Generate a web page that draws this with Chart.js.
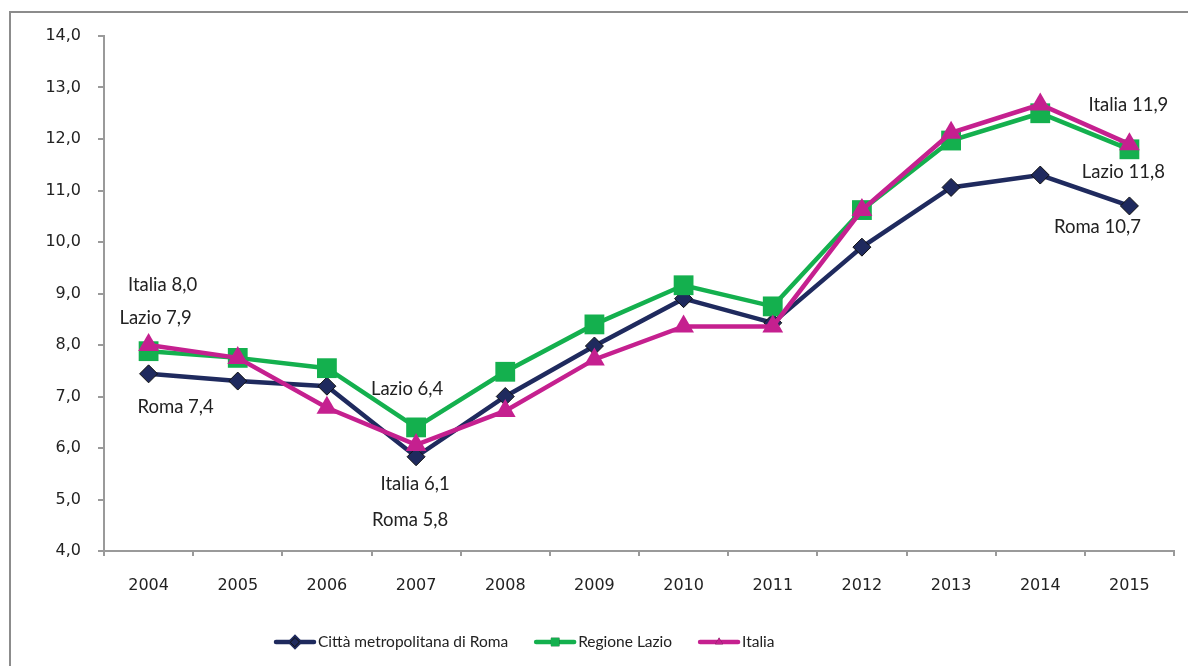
<!DOCTYPE html>
<html>
<head>
<meta charset="utf-8">
<script src="https://cdn.jsdelivr.net/npm/chart.js@4.4.1/dist/chart.umd.min.js"></script>
<style>
    body { margin: 0; background: #fff; }
    #wrap { position: relative; width: 1188px; height: 666px; overflow: hidden; }
    #frame { position: absolute; left: 9px; top: 11px; width: 1250px; height: 720px; border: 2px solid #8c8c8c; }
    #chart { position: absolute; left: 0; top: 0; }
</style>
</head>
<body>
<div id="wrap">
    <div id="frame"></div>
    <canvas id="chart" width="1188" height="666"></canvas>
</div>
<script>
// ======================================
// DATA
// ======================================
const years = ["2004", "2005", "2006", "2007", "2008", "2009", "2010", "2011", "2012", "2013", "2014", "2015"];
const roma = [7.44, 7.3, 7.2, 5.83, 7.0, 7.98, 8.9, 8.43, 9.9, 11.06, 11.3, 10.7];
const lazio = [7.88, 7.75, 7.55, 6.4, 7.48, 8.4, 9.16, 8.75, 10.62, 11.97, 12.5, 11.8];
const italia = [8.0, 7.75, 6.78, 6.06, 6.72, 7.72, 8.36, 8.36, 10.62, 12.12, 12.67, 11.9];
const seriesNames = ["Città metropolitana di Roma", "Regione Lazio", "Italia"];
const shortNames = ["Roma", "Lazio", "Italia"];
const colors = ["#1f2a5e", "#14b04e", "#c5208f"];

// data labels: dataset index, point index, offset from point
const pointLabels = [
    { ds: 2, i: 0, dx: 14, dy: -60 },
    { ds: 1, i: 0, dx: 7, dy: -33 },
    { ds: 0, i: 0, dx: 27, dy: 33 },
    { ds: 1, i: 3, dx: -9, dy: -38 },
    { ds: 2, i: 3, dx: -1, dy: 39 },
    { ds: 0, i: 3, dx: -6, dy: 63 },
    { ds: 2, i: 11, dx: -1, dy: -39 },
    { ds: 1, i: 11, dx: -6, dy: 23 },
    { ds: 0, i: 11, dx: -32, dy: 21 }
];

const fmt = (v) => v.toFixed(1).replace(".", ",");

// ======================================
// PLUGINS
// ======================================
const dataLabels = {
    id: "dataLabels",
    afterDatasetsDraw(chart) {
        const c = chart.ctx;
        c.save();
        c.font = "18.5px Lato";
        c.fillStyle = "#222";
        c.textAlign = "center";
        c.textBaseline = "middle";
        pointLabels.forEach(l => {
            const p = chart.getDatasetMeta(l.ds).data[l.i];
            const v = chart.data.datasets[l.ds].data[l.i];
            c.fillText(shortNames[l.ds] + " " + fmt(v), p.x + l.dx, p.y + l.dy);
        });
        c.restore();
    }
};

const lineLegend = {
    id: "lineLegend",
    afterDraw(chart) {
        const c = chart.ctx;
        c.save();
        c.font = "15.5px Lato";
        c.textBaseline = "middle";
        let x = 276;
        const y = 642;
        chart.data.datasets.forEach(ds => {
            c.strokeStyle = ds.borderColor;
            c.lineWidth = 4.5;
            c.lineCap = "round";
            c.beginPath();
            c.moveTo(x, y);
            c.lineTo(x + 38, y);
            c.stroke();
            Chart.helpers.drawPoint(c, {
                pointStyle: ds.pointStyle,
                radius: ds.pointStyle === "rect" ? 6 : 4.5,
                borderWidth: ds.pointBorderWidth
            }, x + 19, y);
            c.fillStyle = ds.pointBackgroundColor;
            c.strokeStyle = ds.pointBorderColor;
            c.lineWidth = 1;
            c.fill();
            if (ds.pointBorderWidth) c.stroke();
            c.fillStyle = "#222";
            c.fillText(ds.label, x + 42, y);
            x += 42 + c.measureText(ds.label).width + 28;
        });
        c.restore();
    }
};

// ======================================
// CHART
// ======================================
const ctx = document.getElementById("chart");
const chart = new Chart(ctx, {
    type: "line",
    data: {
        labels: years,
        datasets: [
            {
                label: seriesNames[0],
                data: roma,
                order: 3,
                borderColor: colors[0],
                backgroundColor: colors[0],
                pointBackgroundColor: colors[0],
                pointBorderColor: "#111",
                pointBorderWidth: 1,
                borderWidth: 4.5,
                pointStyle: "rectRot",
                pointRadius: 9,
                tension: 0
            },
            {
                label: seriesNames[1],
                data: lazio,
                order: 2,
                borderColor: colors[1],
                backgroundColor: colors[1],
                pointBackgroundColor: colors[1],
                pointBorderColor: colors[1],
                pointBorderWidth: 0,
                borderWidth: 4.5,
                pointStyle: "rect",
                pointRadius: 14,
                tension: 0
            },
            {
                label: seriesNames[2],
                data: italia,
                order: 1,
                borderColor: colors[2],
                backgroundColor: colors[2],
                pointBackgroundColor: colors[2],
                pointBorderColor: colors[2],
                pointBorderWidth: 0,
                borderWidth: 4.5,
                pointStyle: "triangle",
                pointRadius: 12,
                tension: 0
            }
        ]
    },
    options: {
        responsive: false,
        animation: false,
        layout: { padding: { left: 0, right: 10, top: 36, bottom: 55 } },
        plugins: {
            legend: { display: false },
            tooltip: { enabled: false }
        },
        scales: {
            x: {
                offset: true,
                grid: { offset: true, drawOnChartArea: false, tickLength: 5, color: "#9a9a9a", lineWidth: 2 },
                border: { color: "#9a9a9a", width: 2 },
                ticks: { font: { family: "DejaVu Sans", size: 16 }, color: "#222", padding: 20, maxRotation: 0 },
                afterFit: (s) => { s.height = 60; }
            },
            y: {
                min: 4,
                max: 14,
                grid: { drawOnChartArea: false, tickLength: 6, color: "#9a9a9a", lineWidth: 2 },
                border: { color: "#9a9a9a", width: 2 },
                ticks: { stepSize: 1, font: { family: "DejaVu Sans", size: 16 }, color: "#222", padding: 17, callback: (v) => fmt(v) },
                afterFit: (s) => { s.width = 104; }
            }
        }
    },
    plugins: [dataLabels, lineLegend]
});
</script>
</body>
</html>
